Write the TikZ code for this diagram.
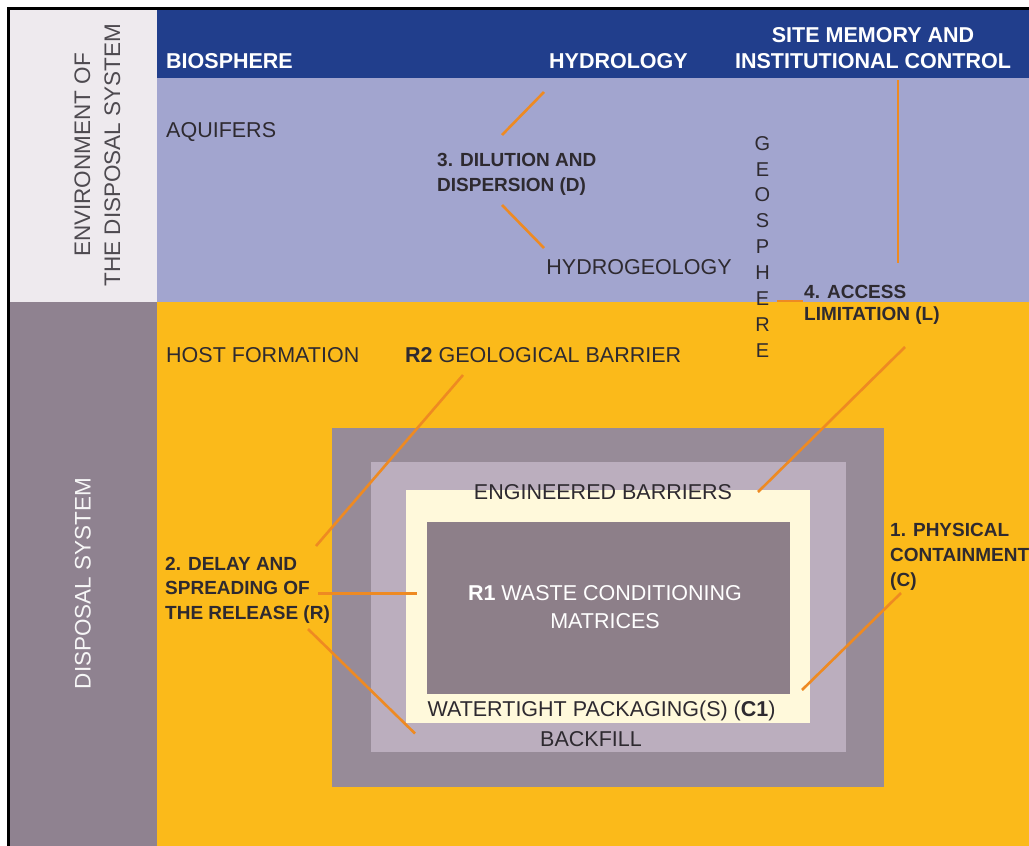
\documentclass[tikz,border=0pt]{standalone}
\usepackage{fontspec}
\setmainfont{Liberation Sans}
\definecolor{banner}{HTML}{213E8C}
\definecolor{lav}{HTML}{A2A5CF}
\definecolor{envgray}{HTML}{EEEAEE}
\definecolor{dispgray}{HTML}{8F8290}
\definecolor{yel}{HTML}{FBBA1A}
\definecolor{boxA}{HTML}{978B98}
\definecolor{boxB}{HTML}{BBAEBE}
\definecolor{cream}{HTML}{FFF9DB}
\definecolor{innerbox}{HTML}{8D7F89}
\definecolor{leadc}{HTML}{EE8A22}
\definecolor{txt}{HTML}{2E2A30}
\definecolor{envtxt}{HTML}{4E4A50}
\begin{document}
\begin{tikzpicture}[x=1pt,y=-1pt,
  lbl/.style={inner sep=0pt, text=txt, font=\fontsize{21.5}{26}\selectfont},
  hdr/.style={inner sep=0pt, text=white, font=\fontsize{21.5}{26}\selectfont\bfseries, align=center},
  func/.style={inner sep=0pt, text=txt, align=left, anchor=north west},
  vert/.style={inner sep=0pt, rotate=90, align=center, font=\fontsize{22.5}{30}\selectfont},
  leadline/.style={draw=leadc, line width=2.6pt},
]
\useasboundingbox (0,0) rectangle (1029,846);
\clip (0,0) rectangle (1029,846);
% background areas
\fill[white] (0,0) rectangle (1029,846);
\fill[envgray] (9,9) rectangle (157,302);
\fill[dispgray] (9,302) rectangle (157,846);
\fill[banner] (157,9) rectangle (1029,78);
\fill[lav] (157,78) rectangle (1029,302);
\fill[yel] (157,302) rectangle (1029,846);
% nested barriers
\fill[boxA] (332,428) rectangle (884,787);
\fill[boxB] (371,462) rectangle (846,752);
\fill[cream] (406,490) rectangle (810,723);
\fill[innerbox] (427,522) rectangle (790,694);
% frame
\draw[black, line width=2.5pt] (8.5,846) -- (8.5,8.5) -- (1029,8.5);

% vertical side labels
\node[vert, text=envtxt] (env) at (97.5,155) {ENVIRONMENT OF\\THE DISPOSAL SYSTEM};
\node[vert, text=white!94!gray] (disp) at (83,583.5) {DISPOSAL SYSTEM};

% headers
\node[hdr, anchor=base west] (bio) at (166,68.5) {BIOSPHERE};
\node[hdr, anchor=base] (hydro) at (618.5,68.5) {HYDROLOGY};
\node[hdr, anchor=north] (site) at (873,27.5) {SITE MEMORY AND\\INSTITUTIONAL CONTROL};

% regular labels
\node[lbl, anchor=base west] (aqui) at (166,137) {AQUIFERS};
\node[lbl, anchor=base] (hydgeo) at (639,274.5) {HYDROGEOLOGY};
\node[lbl, anchor=base west] (host) at (166,362) {HOST FORMATION};
\node[lbl, anchor=base west] (r2) at (405,362) {\textbf{R2} GEOLOGICAL BARRIER};
\node[lbl, anchor=base] (eng) at (603,499.5) {ENGINEERED BARRIERS};
\node[lbl, anchor=base] (water) at (601.5,716.5) {WATERTIGHT PACKAGING(S) (\textbf{C1})};
\node[lbl, anchor=base] (back) at (591,746.5) {BACKFILL};
\node[lbl, anchor=north, align=center, text=white, font=\fontsize{21.5}{28}\selectfont] (r1) at (605,585.5) {\textbf{R1} WASTE CONDITIONING\\MATRICES};

% geosphere
\node[inner sep=0pt, anchor=north, align=center, text=txt, font=\fontsize{20}{25.9}\selectfont] (geo) at (762.5,136) {G\\E\\O\\S\\P\\H\\E\\R\\E};

% function labels
\node[func, font=\fontsize{19}{24.5}\selectfont\bfseries] (dil) at (437,153.3) {3. DILUTION AND\\DISPERSION (D)};
\node[func, font=\fontsize{19}{22}\selectfont\bfseries] (acc) at (804,285.3) {4. ACCESS\\LIMITATION (L)};
\node[func, font=\fontsize{19}{24.4}\selectfont\bfseries] (del) at (165,557) {2. DELAY AND\\SPREADING OF\\THE RELEASE (R)};
\node[func, font=\fontsize{19}{25}\selectfont\bfseries] (phy) at (890,523.3) {1. PHYSICAL\\CONTAINMENT\\(C)};

% leader end points
\coordinate (hyA) at (544,92);   \coordinate (hyB) at (502,135);
\coordinate (hgA) at (502,205);  \coordinate (hgB) at (544,248);
\coordinate (smA) at (898,80);   \coordinate (smB) at (898,263);
\coordinate (geA) at (777,301);  \coordinate (geB) at (803,301);
\coordinate (acA) at (905,347);  \coordinate (acB) at (758,492);
\coordinate (r2A) at (463,375);  \coordinate (r2B) at (316,546);
\coordinate (dlA) at (318,593.5);\coordinate (dlB) at (417,593.5);
\coordinate (wtA) at (308,629);  \coordinate (wtB) at (415,733.5);
\coordinate (phA) at (901,593);  \coordinate (phB) at (802,690);

\draw[leadline] (hyA) -- (hyB);
\draw[leadline] (hgA) -- (hgB);
\draw[leadline] (smA) -- (smB);
\draw[leadline] (geA) -- (geB);
\draw[leadline] (acA) -- (acB);
\draw[leadline] (r2A) -- (r2B);
\draw[leadline] (dlA) -- (dlB);
\draw[leadline] (wtA) -- (wtB);
\draw[leadline] (phA) -- (phB);
\end{tikzpicture}
\end{document}
